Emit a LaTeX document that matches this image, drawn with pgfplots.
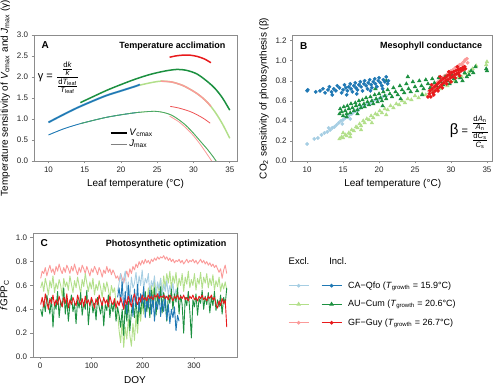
\documentclass[border=0pt]{standalone}
\usepackage{fontspec}
\setmainfont{Liberation Sans}
\usepackage{pgfplots}
\pgfplotsset{compat=1.18}
\usepackage{pgfplotstable}

\definecolor{cLB}{HTML}{A6CEE3}
\definecolor{cDB}{HTML}{1F78B4}
\definecolor{cLG}{HTML}{B2DF8A}
\definecolor{cDG}{HTML}{1C9040}
\definecolor{cPK}{HTML}{FB9A99}
\definecolor{cRD}{HTML}{E8191B}
\definecolor{axgray}{HTML}{8C8C8C}

\pgfplotstableread{
doy gfex gfin auex auin
1 0.66 0.44 0.58 0.40
4 0.72 0.50 0.63 0.34
7 0.70 0.42 0.55 0.47
10 0.75 0.53 0.66 0.38
13 0.68 0.46 0.60 0.52
16 0.73 0.40 0.52 0.44
19 0.77 0.49 0.64 0.36
22 0.71 0.45 0.58 0.50
25 0.74 0.52 0.68 0.25
28 0.69 0.43 0.54 0.46
31 0.76 0.48 0.62 0.40
34 0.72 0.44 0.57 0.55
37 0.78 0.51 0.65 0.33
40 0.73 0.46 0.60 0.47
43 0.70 0.42 0.51 0.42
46 0.75 0.50 0.66 0.58
49 0.71 0.45 0.59 0.36
52 0.77 0.53 0.63 0.49
55 0.74 0.41 0.56 0.30
58 0.70 0.48 0.68 0.44
61 0.76 0.44 0.61 0.52
64 0.72 0.50 0.54 0.38
67 0.78 0.46 0.64 0.45
70 0.73 0.43 0.58 0.28
73 0.69 0.52 0.67 0.48
76 0.75 0.47 0.60 0.41
79 0.71 0.44 0.53 0.54
82 0.77 0.49 0.65 0.35
85 0.74 0.42 0.59 0.46
88 0.70 0.51 0.70 0.40
91 0.76 0.45 0.62 0.56
94 0.72 0.48 0.55 0.27
97 0.68 0.43 0.63 0.43
100 0.74 0.50 0.57 0.49
103 0.71 0.46 0.66 0.37
106 0.76 0.41 0.52 0.45
109 0.73 0.49 0.61 0.31
112 0.69 0.44 0.56 0.50
115 0.75 0.52 0.64 0.42
118 0.72 0.47 0.58 0.36
121 0.67 0.43 0.50 0.47
124 0.73 0.50 0.62 0.26
127 0.70 0.45 0.55 0.44
130 0.76 0.48 0.63 0.39
133 0.71 0.42 0.57 0.52
136 0.74 0.51 0.49 0.33
139 0.69 0.46 0.60 0.45
142 0.73 0.44 0.54 0.38
145 0.70 0.49 0.58 0.48
148 0.66 0.41 0.45 0.30
151 0.68 0.47 0.38 0.42
154 0.64 0.43 0.22 0.35
157 0.70 0.50 0.12 0.25
160 0.66 0.45 0.30 0.40
163 0.62 0.40 0.08 0.18
166 0.68 0.48 0.25 0.44
169 0.72 0.44 0.15 0.30
172 0.67 0.51 0.32 0.47
175 0.74 0.46 0.18 0.22
178 0.70 0.42 0.09 0.38
181 0.76 0.49 0.28 0.45
184 0.73 0.53 0.14 0.33
187 0.78 0.47 0.35 0.50
190 0.75 0.44 0.20 0.28
193 0.80 0.50 0.40 0.46
196 0.77 0.46 0.30 0.36
199 0.81 0.52 0.45 0.52
202 0.78 0.48 0.36 0.41
205 0.82 0.50 0.52 0.55
208 0.79 0.47 0.42 0.38
211 0.81 0.52 0.58 0.49
214 0.78 0.49 0.46 0.33
217 0.82 0.51 0.60 0.56
220 0.80 0.48 0.50 0.42
223 0.83 0.52 0.64 0.58
226 0.81 0.50 0.48 0.35
229 0.84 0.53 0.62 0.51
232 0.82 0.49 0.55 0.44
235 0.84 0.51 0.66 0.59
238 0.83 0.50 0.52 0.37
241 0.85 0.52 0.68 0.54
244 0.82 0.49 0.58 0.46
247 0.84 0.51 0.70 0.30
250 0.81 0.48 0.62 0.52
253 0.83 0.52 0.72 0.45
256 0.80 0.50 0.57 0.57
259 0.82 0.47 0.68 0.40
262 0.79 0.51 0.62 0.53
265 0.81 0.49 0.71 0.46
268 0.80 0.52 0.56 0.58
271 0.82 0.48 0.66 0.36
274 0.79 0.51 0.60 0.52
277 0.81 0.49 0.70 0.44
280 0.78 0.52 0.55 0.20
283 0.80 0.48 0.67 0.50
286 0.82 0.50 0.61 0.43
289 0.79 0.47 0.72 0.55
292 0.81 0.51 0.58 0.38
295 0.80 0.49 0.65 0.16
298 0.82 0.52 0.60 0.48
301 0.79 0.48 0.70 0.42
304 0.81 0.50 0.56 0.53
307 0.78 0.47 0.66 0.35
310 0.80 0.51 0.61 0.49
313 0.82 0.49 0.71 0.45
316 0.79 0.52 0.57 0.56
319 0.81 0.48 0.67 0.40
322 0.78 0.50 0.62 0.51
325 0.80 0.47 0.70 0.44
328 0.77 0.51 0.58 0.54
331 0.79 0.49 0.66 0.37
334 0.76 0.52 0.60 0.50
337 0.78 0.48 0.69 0.43
340 0.75 0.50 0.56 0.55
343 0.77 0.44 0.64 0.39
346 0.74 0.41 0.59 0.48
349 0.71 0.47 0.67 0.42
352 0.74 0.43 0.55 0.52
355 0.66 0.49 0.62 0.36
358 0.73 0.45 0.57 0.50
361 0.77 0.48 0.63 0.44
364 0.70 0.25 0.56 0.58
}\tabyear

\pgfplotstableread{
doy caex cain
151 0.55 0.50
154 0.62 0.58
157 0.70 0.46
160 0.58 0.63
163 0.66 0.40
166 0.72 0.55
169 0.54 0.36
172 0.63 0.60
175 0.50 0.44
178 0.67 0.52
181 0.58 0.34
184 0.62 0.57
187 0.71 0.42
190 0.56 0.61
193 0.68 0.38
196 0.60 0.53
199 0.73 0.45
202 0.57 0.59
205 0.66 0.33
208 0.62 0.50
211 0.70 0.41
214 0.53 0.56
217 0.64 0.36
220 0.59 0.52
223 0.68 0.30
226 0.52 0.47
229 0.63 0.40
232 0.57 0.55
235 0.66 0.34
238 0.50 0.48
241 0.61 0.38
244 0.55 0.51
247 0.64 0.31
250 0.52 0.44
253 0.60 0.28
256 0.54 0.40
259 0.62 0.33
262 0.50 0.42
265 0.57 0.22
268 0.53 0.35
271 0.48 0.30
}\tabca

\pgfplotsset{
  panel/.style={
    scale only axis,
    axis line style={axgray, line width=0.7pt},
    tick style={axgray, line width=0.6pt},
    tick align=outside, tickpos=left, major tick length=2.5pt,
    ticklabel style={font=\fontsize{8}{9}\selectfont, text=black!85},
    label style={font=\fontsize{10}{12}\selectfont},
    /pgf/number format/assume math mode=true,
    clip mode=individual,
  },
  dec1/.style={yticklabel style={/pgf/number format/.cd, fixed, fixed zerofill, precision=1}},
  thick line/.style={line width=1.5pt, smooth, forget plot},
  thin line/.style={line width=0.8pt, smooth, forget plot},
  ts/.style={line width=0.9pt, line join=round, no marks, forget plot},
}
\newcommand{\lt}[1]{\makebox[118pt][l]{#1}}

\begin{document}
\begin{tikzpicture}
\useasboundingbox (0pt,0pt) rectangle (497pt,387pt);

% ---------------- Panel A ----------------
\begin{axis}[panel, dec1,
  at={(34pt,226pt)}, anchor=south west, width=203pt, height=126pt,
  xmin=8, xmax=36, ymin=0, ymax=3,
  xtick={10,15,20,25,30,35}, ytick={0,0.5,1,1.5,2,2.5,3},
  xlabel={Leaf temperature (°C)},
  ylabel={Temperature sensitivity of \textit{V}\textsubscript{cmax} and \textit{J}\textsubscript{max} (γ)},
  legend style={at={(axis cs:18.0,0.86)}, anchor=north west, draw=none, fill=none,
    font=\fontsize{9.5}{10}\selectfont, row sep=-1pt},
  legend cell align=left,
  legend image code/.code={\draw[#1] (0pt,0pt) -- (16pt,0pt);},
]
% thin (Jmax)
\addplot[thin line, cLG] coordinates {(14.4,0.89)(16,0.96)(18,1.04)(20,1.10)(22,1.15)(24,1.18)(25,1.18)(26,1.15)(27,1.09)(28,0.98)(29,0.84)(30,0.66)(31,0.46)(32,0.26)(33,0.03)(34,-0.25)};
\addplot[thin line, cPK] coordinates {(26.7,1.07)(28,0.93)(29,0.78)(30,0.60)(31,0.38)(32,0.13)(32.5,0.0)(32.8,-0.1)};
\addplot[thin line, cLB] coordinates {(10,0.62)(12,0.76)(14,0.87)(16,0.96)(18,1.04)(20,1.10)(22,1.15)(22.6,1.16)};
\addplot[thin line, cDB] coordinates {(10,0.62)(12,0.76)(14,0.87)(16,0.96)(18,1.04)(20,1.10)(22,1.15)(22.6,1.16)};
\addplot[thin line, cDG!80] coordinates {(14.4,0.89)(16,0.96)(18,1.04)(20,1.10)(22,1.15)(24,1.18)(25,1.18)(26,1.15)(27,1.09)(28,0.98)(29,0.84)(30,0.66)(31,0.46)(32,0.26)(33,0.03)(34,-0.25)};
\addplot[thin line, cRD!75!white] coordinates {(26.8,1.30)(28,1.26)(29.5,1.18)(30.5,1.10)(31.5,1.00)(32.3,0.90)};
% thick (Vcmax)
\addplot[thick line, cLG] coordinates {(14.4,1.30)(16,1.42)(18,1.56)(20,1.67)(22,1.78)(24,1.86)(25.5,1.90)(27,1.88)(28.5,1.80)(30,1.66)(31,1.54)(32,1.38)(33,1.16)(34,0.88)(35,0.54)};
\addplot[thick line, cPK] coordinates {(25.5,1.90)(27,1.88)(28.5,1.80)(30,1.66)(31,1.54)(32,1.38)(32.4,1.30)};
\addplot[thick line, cLB, line width=2.2pt] coordinates {(10,0.92)(12,1.10)(14,1.27)(16,1.42)(18,1.56)(20,1.67)(22,1.78)(22.6,1.82)};
\addplot[thick line, cDB] coordinates {(10,0.92)(12,1.10)(14,1.27)(16,1.42)(18,1.56)(20,1.67)(22,1.78)(22.6,1.82)};
\addplot[thick line, cDG] coordinates {(14.4,1.39)(16,1.52)(18,1.68)(20,1.82)(22,1.95)(24,2.06)(26,2.14)(27.7,2.18)(29,2.16)(30.5,2.07)(32,1.88)(33,1.72)(34,1.50)(35,1.21)};
\addplot[thick line, cRD] coordinates {(26.7,2.47)(27.5,2.50)(28.5,2.52)(29.5,2.52)(30.5,2.49)(31.5,2.43)(32.4,2.34)};
\addlegendimage{black, line width=1.6pt}
\addlegendentry{\textit{V}\textsubscript{cmax}}
\addlegendimage{gray, line width=0.8pt}
\addlegendentry{\textit{J}\textsubscript{max}}
\node[anchor=north west, font=\bfseries\fontsize{10}{10}\selectfont] at (rel axis cs:0.02,0.975) {A};
\node[anchor=north east, font=\bfseries\fontsize{9}{9}\selectfont] at (rel axis cs:0.96,0.975) {Temperature acclimation};
\node[anchor=west, font=\fontsize{11}{11}\selectfont, inner sep=0pt] at (axis cs:8.5,1.98)
  {γ = $\displaystyle\frac{\frac{\mathrm{d}\mathit{k}}{\mathit{k}}}{\frac{\mathrm{d}\mathit{T}_{\mathrm{leaf}}}{\mathit{T}_{\mathrm{leaf}}}}$};
\end{axis}

% ---------------- Panel B ----------------
\begin{axis}[panel, dec1,
  at={(292.7pt,226pt)}, anchor=south west, width=200pt, height=125.3pt,
  xmin=8, xmax=35.8, ymin=0, ymax=1.25,
  xtick={10,15,20,25,30,35}, ytick={0,0.2,0.4,0.6,0.8,1.0,1.2},
  xlabel={Leaf temperature (°C)},
  ylabel={CO\textsubscript{2} sensitivity of photosynthesis (β)},
]
\addplot[only marks, mark=*, mark size=1.7pt, cLB] coordinates {(10.0,0.17)(11.0,0.22)(11.5,0.23)(12.0,0.26)(12.4,0.28)(12.8,0.29)(13.2,0.31)(13.5,0.33)(13.8,0.34)(14.1,0.36)(14.4,0.38)(14.7,0.40)(15.0,0.41)(15.3,0.43)(15.6,0.44)(15.9,0.46)(16.2,0.47)(16.5,0.49)(16.8,0.50)(17.1,0.51)(17.4,0.53)(17.7,0.54)(18.0,0.55)(18.4,0.57)(18.8,0.58)(19.2,0.60)(19.6,0.61)(20.0,0.62)(20.5,0.64)(21.0,0.65)(14.9,0.37)(13.0,0.33)(16.0,0.42)};
\addplot[only marks, mark=triangle*, mark size=2.1pt, cLG] coordinates {(14.5,0.22)(14.8,0.24)(15.0,0.23)(15.3,0.26)(15.5,0.25)(15.8,0.28)(16.0,0.27)(16.2,0.31)(16.5,0.30)(16.8,0.34)(17.0,0.33)(17.3,0.37)(17.5,0.35)(17.8,0.40)(18.0,0.38)(18.3,0.42)(18.6,0.41)(18.9,0.45)(19.2,0.43)(19.5,0.47)(19.8,0.46)(20.1,0.50)(20.4,0.48)(20.8,0.52)(21.2,0.51)(21.6,0.55)(22.0,0.53)(22.4,0.57)(22.8,0.56)(23.2,0.60)(23.6,0.58)(24.0,0.62)(24.5,0.61)(25.0,0.65)(25.5,0.63)(26.0,0.67)(26.5,0.66)(27.0,0.70)(27.5,0.69)(28.0,0.73)(28.5,0.72)(29.0,0.76)(29.5,0.75)(30.0,0.79)(30.5,0.80)(31.0,0.83)(31.5,0.84)(32.0,0.87)(32.5,0.89)(33.0,0.92)(33.5,0.95)(35.0,0.99)(34.9,0.96)(16.0,0.24)(17.5,0.31)(19.0,0.38)(21.0,0.46)(15.0,0.28)};
\addplot[only marks, mark=*, mark size=1.7pt, cPK] coordinates {(27.0,0.70)(27.3,0.73)(27.6,0.75)(27.9,0.77)(28.2,0.79)(28.5,0.81)(28.8,0.83)(29.1,0.85)(29.4,0.86)(29.7,0.88)(30.0,0.90)(30.3,0.91)(30.6,0.93)(30.9,0.94)(31.2,0.96)(31.5,0.97)(31.8,0.99)(32.0,1.01)(32.2,1.02)(28.0,0.74)(29.0,0.80)(30.0,0.86)(31.0,0.91)(31.7,0.95)(32.3,0.98)};
\addplot[only marks, mark=triangle*, mark size=2.1pt, cDG] coordinates {(14.5,0.47)(14.6,0.52)(14.8,0.49)(15.0,0.45)(15.1,0.54)(15.3,0.50)(15.5,0.47)(15.6,0.55)(15.8,0.52)(16.0,0.48)(16.1,0.57)(16.3,0.53)(16.5,0.50)(16.7,0.58)(16.8,0.55)(17.0,0.51)(17.2,0.60)(17.3,0.56)(17.5,0.53)(17.7,0.61)(17.9,0.57)(18.0,0.54)(18.2,0.63)(18.4,0.59)(18.6,0.56)(18.8,0.64)(19.0,0.60)(19.2,0.57)(19.4,0.66)(19.6,0.62)(19.8,0.59)(20.0,0.67)(20.2,0.63)(20.4,0.60)(20.6,0.69)(20.8,0.65)(21.0,0.62)(21.2,0.71)(21.5,0.67)(21.8,0.64)(22.0,0.73)(22.3,0.69)(22.6,0.66)(22.9,0.75)(23.2,0.71)(23.5,0.68)(23.8,0.77)(24.1,0.72)(24.4,0.69)(24.7,0.79)(25.0,0.74)(25.3,0.70)(25.6,0.80)(25.9,0.75)(26.2,0.72)(26.5,0.81)(26.8,0.77)(27.1,0.73)(27.4,0.82)(27.7,0.78)(28.0,0.75)(28.3,0.83)(28.6,0.79)(28.9,0.76)(29.2,0.84)(29.5,0.80)(29.8,0.77)(30.1,0.86)(30.4,0.82)(30.7,0.79)(31.0,0.87)(31.3,0.83)(31.6,0.80)(31.9,0.88)(32.2,0.84)(32.5,0.86)(32.8,0.90)(33.1,0.88)(33.4,0.94)(34.9,0.92)(35.0,0.90)(21.0,0.80)(19.5,0.72)(23.0,0.62)(26.0,0.66)(24.0,0.84)(20.5,0.55)(17.0,0.47)(15.5,0.44)};
\addplot[only marks, mark=*, mark size=1.7pt, cDB] coordinates {(10.0,0.70)(10.1,0.71)(11.2,0.69)(11.8,0.70)(12.2,0.72)(12.5,0.68)(12.9,0.71)(13.1,0.74)(13.4,0.69)(13.7,0.72)(14.0,0.70)(14.2,0.75)(14.5,0.73)(14.8,0.68)(15.0,0.71)(15.2,0.76)(15.4,0.73)(15.6,0.70)(15.8,0.74)(16.0,0.77)(16.1,0.72)(16.3,0.69)(16.5,0.75)(16.7,0.78)(16.8,0.73)(17.0,0.71)(17.2,0.76)(17.4,0.79)(17.5,0.74)(17.7,0.70)(17.9,0.77)(18.0,0.80)(18.2,0.75)(18.4,0.72)(18.5,0.78)(18.7,0.81)(18.9,0.76)(19.0,0.73)(19.2,0.79)(19.4,0.82)(19.5,0.77)(19.7,0.74)(19.9,0.80)(20.0,0.83)(20.2,0.78)(20.4,0.75)(20.6,0.81)(20.8,0.79)(21.0,0.84)(21.2,0.77)(21.3,0.80)(20.5,0.72)(15.5,0.66)(13.5,0.66)(16.9,0.67)(18.8,0.70)};
\addplot[only marks, mark=*, mark size=1.7pt, cRD] coordinates {(26.8,0.64)(27.0,0.67)(27.1,0.70)(27.2,0.64)(27.4,0.72)(27.5,0.68)(27.7,0.74)(27.8,0.70)(28.0,0.76)(28.1,0.72)(28.3,0.78)(28.4,0.74)(28.6,0.80)(28.7,0.76)(28.9,0.82)(29.0,0.78)(29.2,0.83)(29.3,0.80)(29.5,0.85)(29.6,0.81)(29.8,0.86)(29.9,0.83)(30.1,0.88)(30.2,0.84)(30.4,0.89)(30.5,0.86)(30.7,0.90)(30.8,0.87)(31.0,0.91)(31.1,0.88)(31.3,0.92)(31.4,0.90)(31.6,0.93)(31.7,0.91)(31.9,0.94)(32.0,0.92)(27.6,0.66)(28.2,0.70)(28.8,0.73)(29.4,0.77)(30.0,0.79)(30.6,0.83)(31.2,0.85)(27.3,0.76)(28.5,0.84)(29.7,0.89)(30.9,0.94)};
\node[anchor=north west, font=\bfseries\fontsize{10}{10}\selectfont] at (rel axis cs:0.02,0.975) {B};
\node[anchor=north east, font=\bfseries\fontsize{9}{9}\selectfont] at (rel axis cs:0.965,0.975) {Mesophyll conductance};
\node[anchor=east, font=\fontsize{11}{11}\selectfont, inner sep=0pt] at (axis cs:35.3,0.29)
  {{\fontsize{15}{15}\selectfont β} = $\displaystyle\frac{\frac{\mathrm{d}\mathit{A}_{\mathrm{n}}}{\mathit{A}_{\mathrm{n}}}}{\frac{\mathrm{d}\mathit{C}_{\mathrm{s}}}{\mathit{C}_{\mathrm{s}}}}$};
\end{axis}

% ---------------- Panel C ----------------
\begin{axis}[panel, dec1,
  at={(33pt,30pt)}, anchor=south west, width=204pt, height=124pt,
  xmin=-14, xmax=384, ymin=0, ymax=1.04,
  xtick={0,100,200,300}, ytick={0,0.2,0.4,0.6,0.8,1.0},
  xlabel={DOY}, xlabel style={yshift=-1pt},
  ylabel={\textit{f}GPP\textsubscript{C}},
  legend columns=2, legend cell align=left,
  legend style={at={(rel axis cs:1.25,0.625)}, anchor=north west, draw=none, fill=none,
    font=\fontsize{9}{10}\selectfont, row sep=6.5pt, inner sep=0pt,
    /tikz/every odd column/.append style={column sep=4pt},
    /tikz/every even column/.append style={column sep=4pt}},
  legend image code/.code={\draw[#1, line width=0.9pt] (0pt,0pt) -- (20pt,0pt);
    \draw[#1, line width=0.9pt] plot coordinates {(10pt,0pt)};},
]
\addplot[ts, cPK] table[x=doy, y=gfex] {\tabyear};
\addplot[ts, cLG] table[x=doy, y=auex] {\tabyear};
\addplot[ts, cLB] table[x=doy, y=caex] {\tabca};
\addplot[ts, cDG] table[x=doy, y=auin] {\tabyear};
\addplot[ts, cDB] table[x=doy, y=cain] {\tabca};
\addplot[ts, cRD] table[x=doy, y=gfin] {\tabyear};
\node[anchor=north west, font=\bfseries\fontsize{10}{10}\selectfont] at (rel axis cs:0.02,0.975) {C};
\node[anchor=north east, font=\bfseries\fontsize{9}{9}\selectfont] at (rel axis cs:0.965,0.975) {Photosynthetic optimization};
\addlegendimage{cLB, mark=*, mark size=1.4pt}
\addlegendentry{}
\addlegendimage{cDB, mark=*, mark size=1.4pt}
\addlegendentry{\lt{CA−Qfo (\textit{T}\textsubscript{growth} = 15.9°C)}}
\addlegendimage{cLG, mark=triangle*, mark size=1.8pt}
\addlegendentry{}
\addlegendimage{cDG, mark=triangle*, mark size=1.8pt}
\addlegendentry{\lt{AU−Cum (\textit{T}\textsubscript{growth} = 20.6°C)}}
\addlegendimage{cPK, mark=*, mark size=1.4pt}
\addlegendentry{}
\addlegendimage{cRD, mark=*, mark size=1.4pt}
\addlegendentry{\lt{GF−Guy (\textit{T}\textsubscript{growth} = 26.7°C)}}
\end{axis}

\node[font=\fontsize{9.5}{10}\selectfont] at (299pt,126pt) {Excl.};
\node[font=\fontsize{9.5}{10}\selectfont] at (338pt,126pt) {Incl.};
\end{tikzpicture}
\end{document}
